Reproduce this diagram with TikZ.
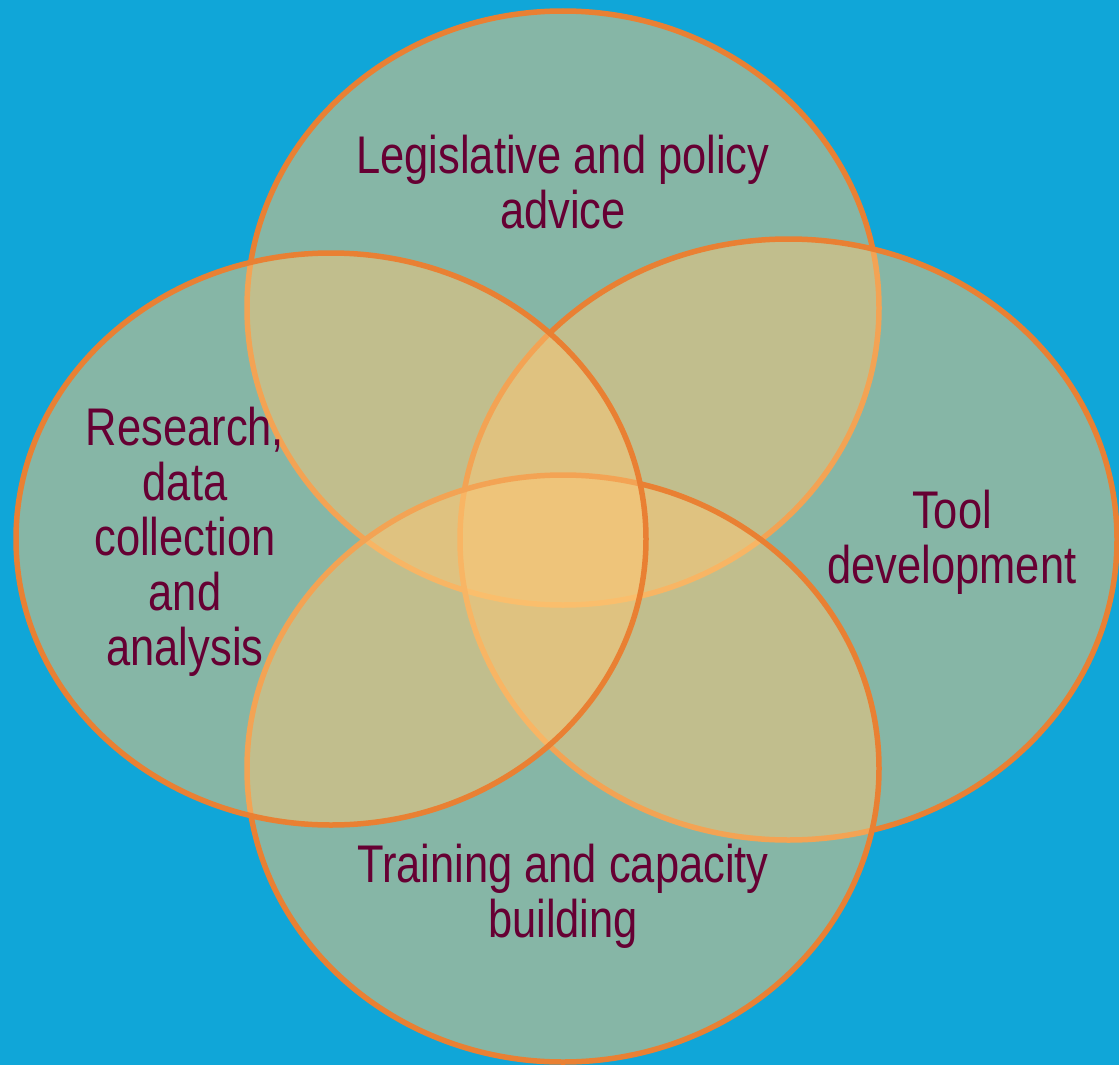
\documentclass[tikz,border=0pt]{standalone}
\usepackage{fontspec}
\setmainfont{Liberation Sans}[FakeStretch=0.82]
\definecolor{bgblue}{HTML}{10A6D8}
\definecolor{petal}{HTML}{FDC775}
\definecolor{rim}{HTML}{E98033}
\definecolor{ink}{HTML}{660033}
\begin{document}
\begin{tikzpicture}[x=1pt,y=-1pt,
  petalshape/.style={fill=petal,fill opacity=0.5,draw=rim,line width=5.5pt},
  label/.style={text=ink,align=center,anchor=base,inner sep=0pt,
    font=\fontsize{53}{55}\selectfont}]
\useasboundingbox (0,0) rectangle (1119,1065);
\fill[bgblue] (0,0) rectangle (1119,1065);
\draw[petalshape] (563,308) ellipse [x radius=316, y radius=297];
\draw[petalshape] (788.5,539.5) ellipse [x radius=328.5, y radius=300.5];
\draw[petalshape] (563,768.5) ellipse [x radius=316, y radius=293.5];
\draw[petalshape] (331,539) ellipse [x radius=315, y radius=286];
\node[label] (legis) at (563,228) {Legislative and policy\\advice};
\node[label] (research) at (185,665) {Research,\\data\\collection\\and\\analysis};
\node[label] (tool) at (952,583) {Tool\\development};
\node[label] (training) at (563,937) {Training and capacity\\building};
\end{tikzpicture}
\end{document}
